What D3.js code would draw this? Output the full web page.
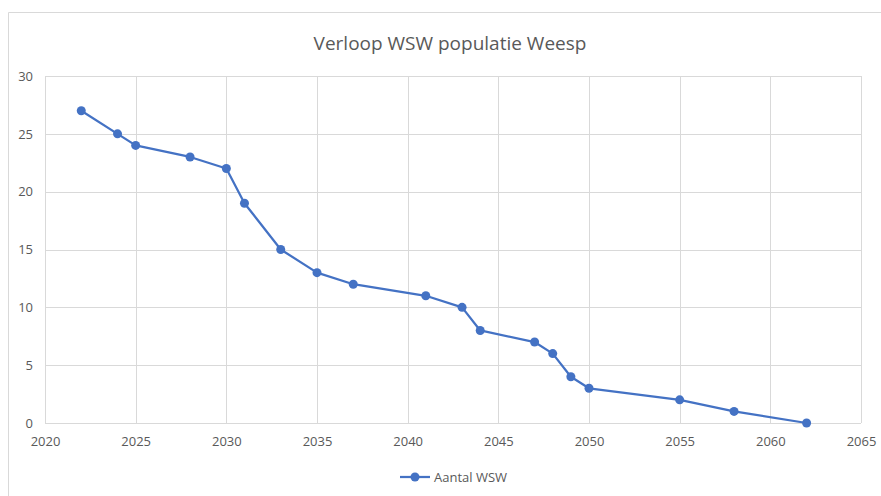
<!DOCTYPE html>
<html>
<head>
<meta charset="utf-8">
<script src="https://cdn.jsdelivr.net/npm/d3@7"></script>
<style>
  body { margin: 0; background: #fff; }
  text { font-family: 'Open Sans', 'Liberation Sans', sans-serif; fill: #595959; }
</style>
</head>
<body>
<div id="chart-area"></div>
<script>
// data
const years = [2022, 2024, 2025, 2028, 2030, 2031, 2033, 2035, 2037, 2041, 2043, 2044, 2047, 2048, 2049, 2050, 2055, 2058, 2062]
const aantal = [27, 25, 24, 23, 22, 19, 15, 13, 12, 11, 10, 8, 7, 6, 4, 3, 2, 1, 0]
const xTicks = [2020, 2025, 2030, 2035, 2040, 2045, 2050, 2055, 2060, 2065]
const yTicks = [0, 5, 10, 15, 20, 25, 30]
const seriesName = 'Aantal WSW'
const title = 'Verloop WSW populatie Weesp'

const canvas = { width: 881, height: 496 }
const plot = { left: 45, right: 861, top: 76, bottom: 423 }
const blue = '#4472C4'

const data = years.map((y, i) => ({ year: y, value: aantal[i] }))

let svg = d3.select('#chart-area')
    .append('svg')
    .attr('width', canvas.width)
    .attr('height', canvas.height)

// chart frame (cropped on the right and bottom)
svg.append('path')
    .attr('d', `M8.5,${canvas.height + 2} V12.5 H${canvas.width + 2}`)
    .attr('fill', 'none')
    .attr('stroke', '#d9d9d9')

svg.append('text')
    .attr('x', 450)
    .attr('y', 50)
    .attr('text-anchor', 'middle')
    .style('font-size', '19px')
    .text(title)

let scaleX = d3.scaleLinear()
    .domain([2020, 2065])
    .range([plot.left, plot.right])

let scaleY = d3.scaleLinear()
    .domain([0, 30])
    .range([plot.bottom, plot.top])

// gridlines
let grid = svg.append('g')
grid.selectAll('.hg')
    .data(yTicks)
    .enter()
    .append('line')
    .attr('x1', plot.left).attr('x2', plot.right)
    .attr('y1', d => Math.round(scaleY(d)) + 0.5)
    .attr('y2', d => Math.round(scaleY(d)) + 0.5)
    .attr('stroke', '#d9d9d9')
grid.selectAll('.vg')
    .data(xTicks)
    .enter()
    .append('line')
    .attr('y1', plot.top).attr('y2', plot.bottom)
    .attr('x1', d => Math.round(scaleX(d)) + 0.5)
    .attr('x2', d => Math.round(scaleX(d)) + 0.5)
    .attr('stroke', '#d9d9d9')

// axes (labels only)
let xAxis = d3.axisBottom(scaleX)
    .tickValues(xTicks)
    .tickFormat(d3.format('d'))
    .tickSize(0)
    .tickPadding(14)
svg.append('g')
    .attr('transform', `translate(0, ${plot.bottom})`)
    .call(xAxis)
    .call(g => g.select('.domain').remove())
    .selectAll('text')
    .style('font-size', '13px')
    .attr('fill', '#595959')

let yAxis = d3.axisLeft(scaleY)
    .tickValues(yTicks)
    .tickSize(0)
    .tickPadding(12)
svg.append('g')
    .attr('transform', `translate(${plot.left}, 0)`)
    .call(yAxis)
    .call(g => g.select('.domain').remove())
    .selectAll('text')
    .style('font-size', '13px')
    .attr('fill', '#595959')

// line + markers
let line = d3.line()
    .x(d => scaleX(d.year))
    .y(d => scaleY(d.value))

svg.append('path')
    .datum(data)
    .attr('d', line)
    .attr('fill', 'none')
    .attr('stroke', blue)
    .attr('stroke-width', 2.25)
    .attr('stroke-linejoin', 'round')

svg.selectAll('circle.pt')
    .data(data)
    .enter()
    .append('circle')
    .attr('class', 'pt')
    .attr('cx', d => scaleX(d.year))
    .attr('cy', d => scaleY(d.value))
    .attr('r', 4.5)
    .attr('fill', blue)

// legend
let legend = svg.append('g').attr('transform', 'translate(400, 477)')
legend.append('line')
    .attr('x1', 0).attr('x2', 30)
    .attr('stroke', blue)
    .attr('stroke-width', 2.25)
legend.append('circle')
    .attr('cx', 15)
    .attr('r', 4.5)
    .attr('fill', blue)
legend.append('text')
    .attr('x', 34)
    .attr('y', 4.5)
    .style('font-size', '13px')
    .text(seriesName)
</script>
</body>
</html>
